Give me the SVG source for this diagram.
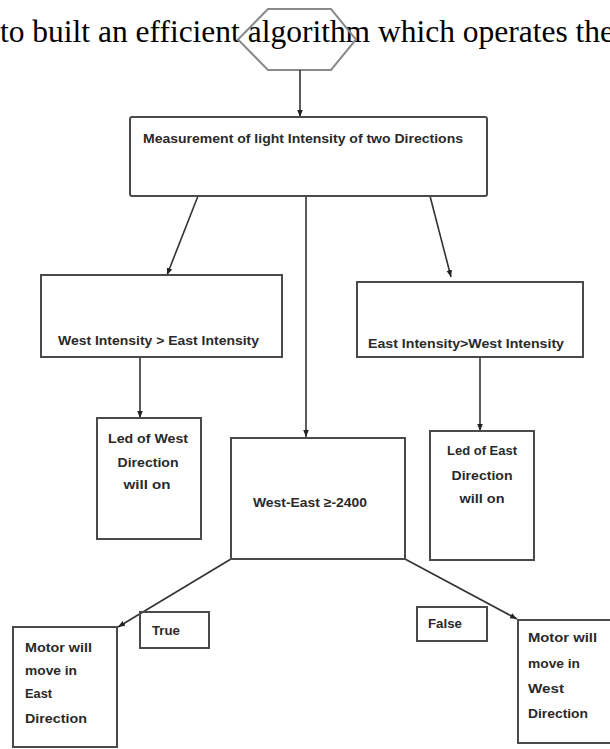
<svg xmlns="http://www.w3.org/2000/svg" width="610" height="749" viewBox="0 0 610 749">
<style>
.bx{fill:none;stroke:#4a4a4a;stroke-width:2}
.hex{fill:none;stroke:#8a8a8a;stroke-width:2}
.ln{fill:none;stroke:#333;stroke-width:1.6}
.t{font-family:"Liberation Sans",Arial,sans-serif;font-weight:bold;font-size:13.5px;fill:#2a2a2a}
.c{text-anchor:middle}
.body{font-family:"Liberation Serif","Times New Roman",serif;font-size:31px;fill:#000}
</style>
<defs>
<marker id="ah" viewBox="0 0 10 10" refX="10" refY="5" markerWidth="7" markerHeight="7" orient="auto" markerUnits="userSpaceOnUse">
<path d="M0,1 L10,5 L0,9 z" fill="#222"/>
</marker>
</defs>
<rect width="610" height="749" fill="#fff"/>
<text class="body" x="0" y="42" textLength="614" lengthAdjust="spacingAndGlyphs">to built an efficient algorithm which operates the</text>

<g id="start">
<polygon class="hex" points="268,9 331,9 356,39.5 331,70 268,70 238,39.5"/>
</g>

<g id="connectors">
<path class="ln" d="M300,70 L300,117" marker-end="url(#ah)"/>
<path class="ln" d="M198,196 L167,275" marker-end="url(#ah)"/>
<path class="ln" d="M430,196 L451,277" marker-end="url(#ah)"/>
<path class="ln" d="M306,196 L306,437" marker-end="url(#ah)"/>
<path class="ln" d="M140,357 L140,418" marker-end="url(#ah)"/>
<path class="ln" d="M480,357 L480,431" marker-end="url(#ah)"/>
<path class="ln" d="M231,559 L118,627" marker-end="url(#ah)"/>
<path class="ln" d="M405,559 L517,619" marker-end="url(#ah)"/>
</g>

<g id="measure">
<rect class="bx" x="130" y="117" width="357" height="79" rx="2"/>
<text class="t" x="143" y="143" textLength="320" lengthAdjust="spacingAndGlyphs">Measurement of light Intensity of two Directions</text>
</g>

<g id="westGreater">
<rect class="bx" x="41" y="275" width="241" height="82"/>
<text class="t" x="58" y="345" textLength="201" lengthAdjust="spacingAndGlyphs">West Intensity &gt; East Intensity</text>
</g>

<g id="eastGreater">
<rect class="bx" x="357" y="282" width="226" height="75"/>
<text class="t" x="368" y="348" textLength="196" lengthAdjust="spacingAndGlyphs">East Intensity&gt;West Intensity</text>
</g>

<g id="ledWest">
<rect class="bx" x="97" y="418" width="104" height="121"/>
<text class="t c" x="148" y="443" textLength="80" lengthAdjust="spacingAndGlyphs">Led of West</text>
<text class="t c" x="148" y="467" textLength="61" lengthAdjust="spacingAndGlyphs">Direction</text>
<text class="t c" x="147" y="489" textLength="47" lengthAdjust="spacingAndGlyphs">will on</text>
</g>

<g id="compare">
<rect class="bx" x="231" y="438" width="174" height="121"/>
<text class="t c" x="310" y="507" textLength="114" lengthAdjust="spacingAndGlyphs">West-East ≥-2400</text>
</g>

<g id="ledEast">
<rect class="bx" x="430" y="431" width="104" height="129"/>
<text class="t c" x="482" y="455" textLength="70" lengthAdjust="spacingAndGlyphs">Led of East</text>
<text class="t c" x="482" y="480" textLength="61" lengthAdjust="spacingAndGlyphs">Direction</text>
<text class="t c" x="482" y="503" textLength="45" lengthAdjust="spacingAndGlyphs">will on</text>
</g>

<g id="trueLabel">
<rect class="bx" x="140" y="612" width="69" height="36"/>
<text class="t" x="152" y="635" textLength="28" lengthAdjust="spacingAndGlyphs">True</text>
</g>

<g id="falseLabel">
<rect class="bx" x="417" y="607" width="70" height="34"/>
<text class="t" x="428" y="628" textLength="34" lengthAdjust="spacingAndGlyphs">False</text>
</g>

<g id="motorEast">
<rect class="bx" x="13" y="627" width="104" height="120"/>
<text class="t" x="25" y="652" textLength="67" lengthAdjust="spacingAndGlyphs">Motor will</text>
<text class="t" x="25" y="675" textLength="52" lengthAdjust="spacingAndGlyphs">move in</text>
<text class="t" x="25" y="698" textLength="27" lengthAdjust="spacingAndGlyphs">East</text>
<text class="t" x="25" y="723" textLength="62" lengthAdjust="spacingAndGlyphs">Direction</text>
</g>

<g id="motorWest">
<rect class="bx" x="518" y="620" width="94" height="123"/>
<text class="t" x="528" y="642" textLength="69" lengthAdjust="spacingAndGlyphs">Motor will</text>
<text class="t" x="528" y="668" textLength="52" lengthAdjust="spacingAndGlyphs">move in</text>
<text class="t" x="528" y="693" textLength="36" lengthAdjust="spacingAndGlyphs">West</text>
<text class="t" x="528" y="718" textLength="60" lengthAdjust="spacingAndGlyphs">Direction</text>
</g>
</svg>
